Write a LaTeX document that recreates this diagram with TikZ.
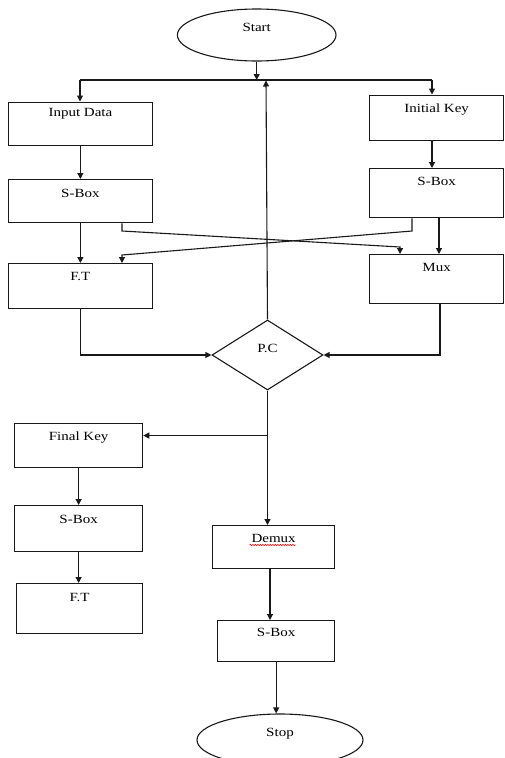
\documentclass[tikz,border=0pt]{standalone}
\usepackage{fontspec}
\setmainfont{Liberation Serif}[FakeStretch=1.2]
\usetikzlibrary{shapes.geometric,arrows.meta,calc,decorations.pathmorphing}
\begin{document}
\begin{tikzpicture}[x=1pt,y=-1pt,
  every node/.style={font=\fontsize{12.5}{14}\selectfont, text=black},
  procbox/.style={draw=black!90, line width=1.25pt, rectangle, inner sep=0pt, anchor=north west},
  term/.style={draw=black!90, line width=1.1pt, ellipse, inner sep=0pt},
  decide/.style={draw=black!90, line width=1.1pt, diamond, inner sep=0pt},
  conn/.style={draw=black!90, line width=1.1pt},
  arr/.style={conn, -{Triangle[length=6pt,width=6pt]}}]
\useasboundingbox (0,0) rectangle (504,758);

% terminals
\node[term, minimum width=158.6pt, minimum height=52pt, text height=9pt, text depth=15.6pt] (st) at (256.7,35) {Start};
\node[term, minimum width=166pt, minimum height=52pt, text height=9pt, text depth=17pt] (sp) at (280,740) {Stop};

% boxes
\node[procbox, minimum width=143.5pt, text height=14.5pt, text depth=28.5pt] (in) at (8,101.5) {Input Data};
\node[procbox, minimum width=134pt, text height=17.5pt, text depth=28pt] (ik) at (369,94.5) {Initial Key};
\node[procbox, minimum width=143.5pt, text height=17.7pt, text depth=25.3pt] (sb1) at (8,179) {S-Box};
\node[procbox, minimum width=134pt, text height=17pt, text depth=32pt] (sb2) at (369,168) {S-Box};
\node[procbox, minimum width=143.5pt, text height=17pt, text depth=28pt] (ft1) at (8,263) {F.T};
\node[procbox, minimum width=134pt, text height=17pt, text depth=32pt] (mux) at (369,254) {Mux};
\node[procbox, minimum width=128pt, text height=17.5pt, text depth=27pt] (fk) at (14,422.5) {Final Key};
\node[procbox, minimum width=128pt, text height=18pt, text depth=28pt] (sb3) at (14,505) {S-Box};
\node[procbox, minimum width=126pt, text height=18pt, text depth=32pt] (ft2) at (16,583) {F.T};
\node[procbox, minimum width=122pt, text height=16.5pt, text depth=26.5pt] (dm) at (212,525) {Demux};
\node[procbox, minimum width=117pt, text height=16pt, text depth=25pt] (sb4) at (217,620) {S-Box};

% decision
\node[decide, minimum width=111pt, minimum height=70pt, text height=9pt, text depth=15pt] (pc) at (267.5,355) {P.C};

% spell-check squiggle under Demux
\draw[red, line width=0.6pt, decorate, decoration={snake, amplitude=0.7pt, segment length=2.5pt}]
  ($(dm.north)+(-24,20)$) -- ($(dm.north)+(22,20)$);

% top distribution
\coordinate (jl) at (80,80);
\coordinate (jr) at (432,80);
\coordinate (up) at (266,80.5);
\draw[arr] (st.south) -- (st.south |- jl);
\draw[conn] (jl) -- (jr);
\draw[arr] (jl) -- (jl |- in.north);
\draw[arr] (jr) -- (jr |- ik.north);
\draw[arr] (pc.north) -- (up);

% columns
\draw[arr] (in.south) -- (in.south |- sb1.north);
\draw[arr] (jr |- ik.south) -- (jr |- sb2.north);
\draw[arr] (sb1.south) -- (sb1.south |- ft1.north);
\coordinate (mr) at (439,0);
\draw[arr] (mr |- sb2.south) -- (mr |- mux.north);

% crossing lines
\coordinate (xa) at (122,231);
\coordinate (xb) at (400,247);
\coordinate (xc) at (412,231);
\coordinate (xd) at (122,255);
\draw[arr] (xa |- sb1.south) -- (xa) -- (xb) -- (xb |- mux.north);
\draw[arr] (xc |- sb2.south) -- (xc) -- (xd) -- (xd |- ft1.north);

% into P.C
\draw[arr] (ft1.south) |- (pc.west);
\coordinate (mb) at (440,0);
\draw[arr] (mb |- mux.south) |- (pc.east);

% below P.C
\path (pc.south) ++(0,45) coordinate (br);
\draw[arr] (pc.south) -- (pc.south |- dm.north);
\draw[arr] (br) -- (br -| fk.east);
\draw[arr] (fk.south) -- (fk.south |- sb3.north);
\draw[arr] (sb3.south) -- (sb3.south |- ft2.north);
\coordinate (dx) at (270,0);
\draw[arr] (dx |- dm.south) -- (dx |- sb4.north);
\draw[arr] (sb4.south) -- (sb4.south |- sp.north);
\end{tikzpicture}
\end{document}
